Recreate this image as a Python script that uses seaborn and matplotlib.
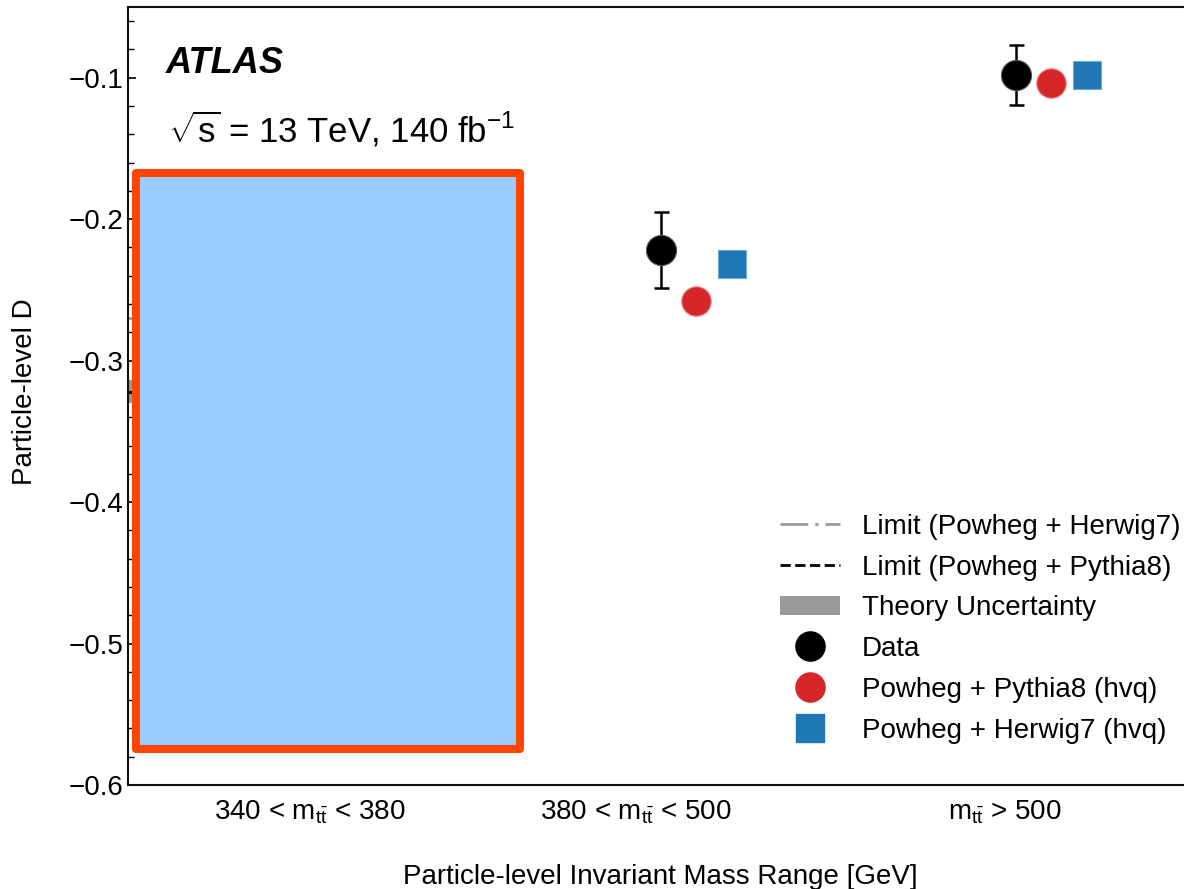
import matplotlib
matplotlib.use("Agg")
import matplotlib.pyplot as plt
import seaborn as sns
import numpy as np
import pandas as pd
from matplotlib.lines import Line2D
from matplotlib.patches import Patch, Rectangle
from matplotlib.ticker import MultipleLocator

# ---------------- data ----------------
categories = [r"340 < m$_{\mathregular{t\bar{t}}}$ < 380",
              r"380 < m$_{\mathregular{t\bar{t}}}$ < 500",
              r"m$_{\mathregular{t\bar{t}}}$ > 500"]
category_pos = [0, 1, 2]
label_pos = [0.013, 0.931, 1.970]

# visible measurements (first bin is covered by the box)
meas_pos = [1, 2]
data_D = [-0.222, -0.098]
data_err = [0.027, 0.021]
pythia_D = [-0.258, -0.104]
herwig_D = [-0.232, -0.098]

# threshold-bin limits and theory band (first bin)
limit_herwig = -0.270
limit_pythia = -0.322
theory_lo = -0.330
theory_hi = -0.314

# redaction box (data coords)
box_x = [-0.478, 0.604]
box_y = [-0.5745, -0.1672]

# ---------------- style ----------------
sns.set_theme(style="ticks")
plt.rcParams['font.family'] = ['Liberation Sans', 'DejaVu Sans']
plt.rcParams['mathtext.default'] = 'regular'
plt.rcParams['mathtext.fontset'] = 'custom'
plt.rcParams['mathtext.rm'] = 'Liberation Sans'
plt.rcParams['mathtext.it'] = 'Liberation Sans:italic'
for k in ['text.color', 'axes.labelcolor', 'xtick.color', 'ytick.color', 'axes.edgecolor']:
    plt.rcParams[k] = 'black'

fig = plt.figure(figsize=(11.84, 8.89), dpi=100)
ax = fig.add_axes([128/1184, 104/889, (1193-128)/1184, (785-7)/889])

red = "#d62728"
blue = "#1f77b4"
grey = "#999999"
dashdot = (0, (10, 2.5, 1.2, 2.5))

# theory band + limits in first bin
ax.fill_between([-0.5, 0.5], [theory_lo]*2, [theory_hi]*2, color=grey, lw=0, zorder=1)
ax.hlines(limit_herwig, -0.5, 0.5, colors=grey, linestyles=[dashdot], lw=2, zorder=1)
ax.hlines(limit_pythia, -0.5, 0.5, colors='black', linestyles='--', lw=2, zorder=1)

# error bars
ax.errorbar(meas_pos, data_D, yerr=data_err, fmt='none', ecolor='black',
            elinewidth=1.8, capsize=5.4, capthick=1.8, zorder=2)

off = 0.1
df = pd.DataFrame({
    "x": list(meas_pos) + [p + off for p in meas_pos] + [p + 2*off for p in meas_pos],
    "D": data_D + pythia_D + herwig_D,
    "series": ["Data"]*2 + ["Powheg + Pythia8 (hvq)"]*2 + ["Powheg + Herwig7 (hvq)"]*2,
})
sns.scatterplot(data=df[df.series == "Data"], x="x", y="D", color="black", marker="o",
                s=470, edgecolor="#555555", linewidth=0.8, ax=ax, zorder=3, legend=False)
sns.scatterplot(data=df[df.series == "Powheg + Pythia8 (hvq)"], x="x", y="D", color=red,
                marker="o", s=450, edgecolor="#f08080", linewidth=0.8, ax=ax, zorder=3, legend=False)
sns.scatterplot(data=df[df.series == "Powheg + Herwig7 (hvq)"], x="x", y="D", color=blue,
                marker="s", s=430, edgecolor="#6fa8d6", linewidth=0.8, ax=ax, zorder=3, legend=False)

# redaction box
rect = Rectangle((box_x[0], box_y[0]), box_x[1]-box_x[0], box_y[1]-box_y[0],
                 facecolor="#99ccff", edgecolor="#ff4500", lw=5.8, joinstyle='round',
                 zorder=5, clip_on=False)
ax.add_patch(rect)

# axes
ax.set_xlim(-0.5, 2.5)
ax.set_ylim(-0.6, -0.05)
ax.set_xticks(label_pos)
ax.set_xticklabels(categories, fontsize=20)
ax.tick_params(axis='x', length=0, pad=10)
ax.yaxis.set_major_locator(MultipleLocator(0.1))
ax.yaxis.set_minor_locator(MultipleLocator(0.02))
ax.set_yticks([-0.6, -0.5, -0.4, -0.3, -0.2, -0.1])
ax.set_yticklabels(["\u22120.6", "\u22120.5", "\u22120.4", "\u22120.3", "\u22120.2", "\u22120.1"])
ax.tick_params(axis='y', which='major', direction='in', length=6, width=1.2, labelsize=20, pad=3)
ax.tick_params(axis='y', which='minor', direction='in', length=4.5, width=1.0)
for s in ax.spines.values():
    s.set_linewidth(1.5)
    s.set_color("#111111")
ax.spines['right'].set_visible(False)

ax.set_xlabel("Particle-level Invariant Mass Range [GeV]", fontsize=20)
ax.set_ylabel("Particle-level D", fontsize=20)
ax.xaxis.set_label_coords((660-128)/1065, (785-864)/778)
ax.yaxis.set_label_coords((12-128)/1065, (785-392)/778)
ax.yaxis.label.set_verticalalignment('top')

ax.text(0.035, 0.928, "ATLAS", transform=ax.transAxes, fontsize=26,
        fontweight='bold', fontstyle='italic', va='center', ha='left')
ax.text(0.038, 0.842, r"$\sqrt{\mathregular{s}}$ = 13 TeV, 140 fb$^{\mathregular{-1}}$",
        transform=ax.transAxes, fontsize=25, va='center', ha='left')

handles = [
    Line2D([0], [0], color=grey, ls=dashdot, lw=2),
    Line2D([0], [0], color='black', ls='--', lw=2),
    Patch(facecolor=grey, edgecolor='none'),
    Line2D([0], [0], color='black', marker='o', ls='none', markersize=21),
    Line2D([0], [0], color=red, marker='o', ls='none', markersize=21),
    Line2D([0], [0], color=blue, marker='s', ls='none', markersize=20),
]
labels = ["Limit (Powheg + Herwig7)", "Limit (Powheg + Pythia8)", "Theory Uncertainty",
          "Data", "Powheg + Pythia8 (hvq)", "Powheg + Herwig7 (hvq)"]
ax.legend(handles, labels, loc='upper left', bbox_to_anchor=((780-128)/1065, (785-514)/778),
          frameon=False, fontsize=20, borderpad=0, borderaxespad=0, handlelength=2.15,
          handletextpad=0.8, labelspacing=0.53)

fig.savefig("out.png", dpi=100)
